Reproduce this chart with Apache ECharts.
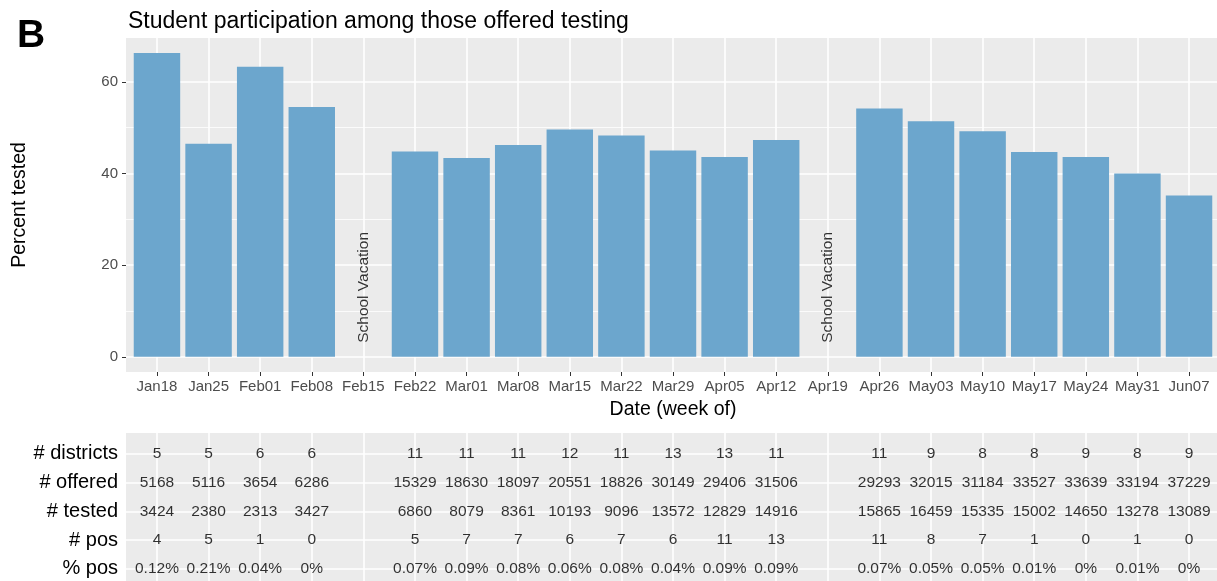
<!DOCTYPE html>
<html>
<head>
<meta charset="utf-8">
<title>Student participation among those offered testing</title>
<script src="https://cdn.jsdelivr.net/npm/echarts@6/dist/echarts.min.js"></script>
<style>
    html, body { margin: 0; padding: 0; background: #fff; }
    #chart { width: 1217px; height: 581px; }
</style>
</head>
<body>
<div id="chart"></div>
<script>
// week of (x axis)
var weeks = ['Jan18','Jan25','Feb01','Feb08','Feb15','Feb22','Mar01','Mar08','Mar15','Mar22','Mar29',
             'Apr05','Apr12','Apr19','Apr26','May03','May10','May17','May24','May31','Jun07'];
// percent tested (null = school vacation)
var pctTested = [66.3, 46.5, 63.3, 54.5, null, 44.8, 43.4, 46.2, 49.6, 48.3, 45.0,
                 43.6, 47.3, null, 54.2, 51.4, 49.2, 44.7, 43.6, 40.0, 35.2];
var vacationWeeks = ['Feb15', 'Apr19'];
var yTicks = [0, 20, 40, 60];
var yMinorTicks = [10, 30, 50];

// table under the chart
var rowNames = ['# districts', '# offered', '# tested', '# pos', '% pos'];
var districts = [5, 5, 6, 6, null, 11, 11, 11, 12, 11, 13, 13, 11, null, 11, 9, 8, 8, 9, 8, 9];
var offered = [5168, 5116, 3654, 6286, null, 15329, 18630, 18097, 20551, 18826, 30149, 29406, 31506, null,
               29293, 32015, 31184, 33527, 33639, 33194, 37229];
var tested = [3424, 2380, 2313, 3427, null, 6860, 8079, 8361, 10193, 9096, 13572, 12829, 14916, null,
              15865, 16459, 15335, 15002, 14650, 13278, 13089];
var pos = [4, 5, 1, 0, null, 5, 7, 7, 6, 7, 6, 11, 13, null, 11, 8, 7, 1, 0, 1, 0];
var pctPos = ['0.12%', '0.21%', '0.04%', '0%', null, '0.07%', '0.09%', '0.08%', '0.06%', '0.08%', '0.04%', '0.09%', '0.09%', null,
              '0.07%', '0.05%', '0.05%', '0.01%', '0%', '0.01%', '0%'];

var weekIdx = weeks.map(function (w, i) { return i; });
var rowIdx = rowNames.map(function (r, i) { return i; });

// bars as [week index, value]
var barData = [];
pctTested.forEach(function (v, i) {
    if (v != null) barData.push([i, v]);
});
var vacationData = vacationWeeks.map(function (w) { return [weeks.indexOf(w), 0]; });

// table cells as [week index, row index, text]
var cells = [];
[districts, offered, tested, pos, pctPos].forEach(function (row, r) {
    row.forEach(function (v, i) {
        if (v != null) cells.push([i, r, String(v)]);
    });
});

var FONT = 'Liberation Sans, Arial, sans-serif';
var PANEL = '#EBEBEB';

var chart = echarts.init(document.getElementById('chart'));
chart.setOption({
    animation: false,
    textStyle: { fontFamily: FONT },
    title: [
        { text: 'B', left: 12, top: 12, textStyle: { fontSize: 39, fontWeight: 'bold', color: '#000', fontFamily: FONT } },
        { text: 'Student participation among those offered testing', left: 123, top: 5,
          textStyle: { fontSize: 23, fontWeight: 'normal', color: '#000', fontFamily: FONT } }
    ],
    grid: [
        { left: 126, width: 1094, top: 38, height: 334, show: true, backgroundColor: PANEL, borderWidth: 0,
          outerBoundsMode: 'none' },
        { left: 126, width: 1094, top: 433, height: 153, show: true, backgroundColor: PANEL, borderWidth: 0,
          outerBoundsMode: 'none' }
    ],
    xAxis: [
        {
            gridIndex: 0, type: 'value', min: -0.6, max: 20.6,
            axisLine: { show: false, onZero: false },
            axisTick: { show: true, customValues: weekIdx, length: 4, lineStyle: { color: '#333', width: 1 } },
            axisLabel: { customValues: weekIdx, color: '#4D4D4D', fontSize: 15, margin: 7,
                         formatter: function (v) { return weeks[v]; } },
            splitLine: { show: true, lineStyle: { color: '#fff', width: 1.6 } },
            name: 'Date (week of)', nameLocation: 'middle', nameGap: 28,
            nameTextStyle: { color: '#000', fontSize: 19.5, fontFamily: FONT }
        },
        {
            gridIndex: 1, type: 'value', min: -0.6, max: 20.6,
            axisLine: { show: false, onZero: false },
            axisTick: { show: false, customValues: weekIdx },
            axisLabel: { show: false, customValues: weekIdx },
            splitLine: { show: true, lineStyle: { color: '#fff', width: 1.6 } }
        }
    ],
    yAxis: [
        {
            gridIndex: 0, type: 'value', min: -3.31, max: 69.56,
            axisLine: { show: false, onZero: false },
            axisTick: { show: true, customValues: yTicks, length: 4, lineStyle: { color: '#333', width: 1 } },
            axisLabel: { customValues: yTicks, color: '#4D4D4D', fontSize: 15, margin: 8 },
            splitLine: { show: true, lineStyle: { color: '#fff', width: 1.6 } },
            name: 'Percent tested', nameLocation: 'middle', nameGap: 96,
            nameTextStyle: { color: '#000', fontSize: 19.5, fontFamily: FONT }
        },
        {
            // minor grid lines
            gridIndex: 0, type: 'value', min: -3.31, max: 69.56, position: 'left',
            axisLine: { show: false, onZero: false },
            axisTick: { show: false, customValues: yMinorTicks },
            axisLabel: { show: false, customValues: yMinorTicks },
            splitLine: { show: true, lineStyle: { color: '#fff', width: 0.8 } }
        },
        {
            gridIndex: 1, type: 'value', min: -0.73, max: 4.6, inverse: true,
            axisLine: { show: false, onZero: false },
            axisTick: { show: false, customValues: rowIdx },
            axisLabel: { customValues: rowIdx, color: '#000', fontSize: 20, margin: 8,
                         formatter: function (v) { return rowNames[v]; } },
            splitLine: { show: true, lineStyle: { color: '#fff', width: 1.6 } }
        }
    ],
    series: [
        {
            type: 'bar', xAxisIndex: 0, yAxisIndex: 0,
            data: barData,
            barWidth: '90%',
            itemStyle: { color: '#6CA6CD' },
            silent: true
        },
        {
            type: 'scatter', xAxisIndex: 0, yAxisIndex: 0,
            data: vacationData,
            symbolSize: 0,
            silent: true,
            label: {
                show: true, position: 'top', distance: 12, rotate: 90,
                align: 'left', verticalAlign: 'middle', offset: [2, 0],
                formatter: 'School Vacation', color: '#000', fontSize: 15.5, fontFamily: FONT
            }
        },
        {
            type: 'scatter', xAxisIndex: 1, yAxisIndex: 2,
            data: cells,
            symbolSize: 0,
            silent: true,
            label: {
                show: true, position: 'inside',
                formatter: function (p) { return p.data[2]; },
                color: '#000', fontSize: 15.5, fontFamily: FONT
            }
        }
    ]
});
</script>
</body>
</html>
